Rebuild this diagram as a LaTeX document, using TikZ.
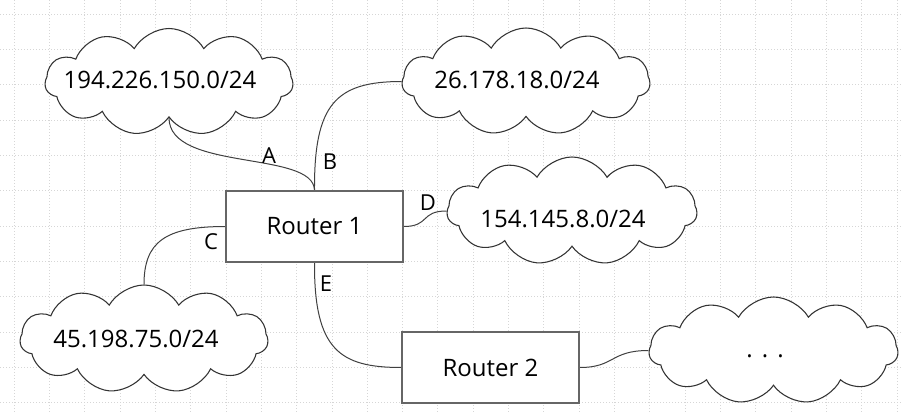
\documentclass[tikz,border=0pt]{standalone}
\usepackage{fontspec}
\setmainfont{Open Sans}
\usetikzlibrary{shapes.symbols,backgrounds}
\begin{document}
\begin{tikzpicture}[x=0.75pt,y=-0.75pt,
  gridline/.style={draw=black!16, line width=0.7pt, dash pattern=on 0.75pt off 1.5pt},
  netcloud/.style={cloud, draw=black!80, line width=0.8pt, cloud puffs=11, cloud puff arc=120, inner sep=0pt, fill=white},
  routerbox/.style={rectangle, draw=black!60, line width=1pt, fill=white, minimum width=132.75pt, minimum height=53.25pt, inner sep=0pt, font=\fontsize{18}{22}\selectfont},
  nettext/.style={font=\fontsize{18}{22}\selectfont, anchor=base, inner sep=0pt},
  linklabel/.style={font=\fontsize{16.5}{20}\selectfont, anchor=base, inner sep=0pt},
  link/.style={draw=black!75, line width=0.75pt},
]
\useasboundingbox (0,0) rectangle (903,414);
% routers
\node[routerbox] (r1) at (314.5,226.5) {Router 1};
\node[routerbox] (r2) at (490.5,367.5) {Router 2};
% clouds
\node[netcloud, minimum width=186pt, minimum height=80.25pt] (c1) at (169,82) {};
\node[netcloud, minimum width=186pt, minimum height=80.25pt] (c2) at (526,81.5) {};
\node[netcloud, minimum width=187.5pt, minimum height=81pt] (cD) at (572,211) {};
\node[netcloud, minimum width=186pt, minimum height=81pt] (cC) at (144,339) {};
\node[netcloud, minimum width=186.75pt, minimum height=80.25pt] (cE) at (773.5,350.5) {};
% cloud texts
\node[nettext] (t1) at (160,88) {194.226.150.0/24};
\node[nettext] (t2) at (517,88) {26.178.18.0/24};
\node[nettext] (tD) at (563,227) {154.145.8.0/24};
\node[nettext] (tC) at (136,347) {45.198.75.0/24};
\node[nettext] (tE) at (765,357) {.\hspace{6.8pt}.\hspace{6.8pt}.};
% labels
\node[linklabel] (la) at (269,163) {A};
\node[linklabel] (lb) at (330,169) {B};
\node[linklabel] (lc) at (211,249) {C};
\node[linklabel] (ld) at (428,210) {D};
\node[linklabel] (le) at (326,291) {E};
\begin{scope}[on background layer]
\fill[white] (0,0) rectangle (903,414);
\foreach \i in {0,...,25} {
  \draw[gridline] ({14+35.33*\i},0) -- ({14+35.33*\i},414);
}
\foreach \j in {0,...,11} {
  \draw[gridline] (0,{14+35.33*\j}) -- (903,{14+35.33*\j});
}
% connectors
\draw[link] (r1.north) .. controls (314,150) and (169,172) .. (c1.south);
\draw[link] (r1.north) .. controls (314,105) and (335,81.5) .. (c2.west);
\draw[link] (r1.west) .. controls (165,226.5) and (144,242) .. (cC.north);
\draw[link] (r1.east) .. controls (430,226.5) and (420,211) .. (cD.west);
\draw[link] (r1.south) .. controls (314,350) and (340,367.5) .. (r2.west);
\draw[link] (r2.east) .. controls (615,367.5) and (610,350.5) .. (cE.west);
\end{scope}
\end{tikzpicture}
\end{document}
